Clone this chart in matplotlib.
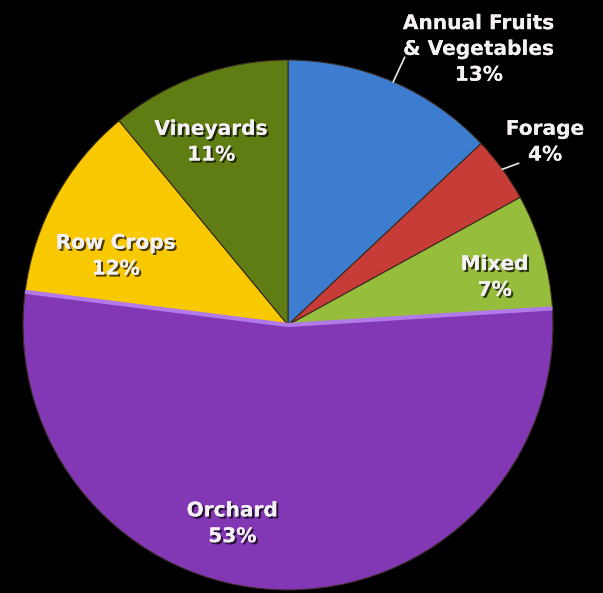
import numpy as np
import matplotlib.pyplot as plt
import matplotlib.patheffects as pe

# land use shares, clockwise from 12 o'clock
categories = ["Annual Fruits\n& Vegetables", "Forage", "Mixed", "Orchard", "Row Crops", "Vineyards"]
shares = [13, 4, 7, 53, 12, 11]
colors = ["#3c7dcf", "#c83c37", "#96bd3c", "#8238b5", "#f8c800", "#5f7d12"]

# label centres (axes data units, pie radius = 1)
label_pos = [(0.72, 1.04), (0.97, 0.69), (0.78, 0.18), (-0.21, -0.75), (-0.65, 0.26), (-0.29, 0.69)]
# slices whose labels sit outside get a short leader line
leader_end = {0: (0.44, 1.01), 1: (0.87, 0.61)}

fig = plt.figure(figsize=(6.03, 5.93), dpi=100, facecolor="black")
ax = fig.add_axes([0, 0, 1, 1])
ax.set_facecolor("black")

wedges, _ = ax.pie(shares, colors=colors, startangle=90, counterclock=False,
                   radius=1.0, center=(0, 0),
                   wedgeprops=dict(edgecolor="#3a2a20", linewidth=0.8))

# lighter bevel on the straight edges of the big slice
orch = wedges[3]
for ang in (orch.theta1, orch.theta2):
    a = np.deg2rad(ang)
    ax.plot([0, np.cos(a)], [0, np.sin(a)], color="#b27ae8", lw=3, solid_capstyle="butt", zorder=3)

shadow = [pe.withSimplePatchShadow(offset=(1.5, -1.5), shadow_rgbFace="black", alpha=0.7), pe.Normal()]

for i, (name, val) in enumerate(zip(categories, shares)):
    x, y = label_pos[i]
    ax.text(x, y, f"{name}\n{val}%", ha="center", va="center", color="#f4f0f4",
            fontsize=14.5, fontweight="bold", linespacing=1.45,
            path_effects=shadow, zorder=5)
    if i in leader_end:
        w = wedges[i]
        mid = np.deg2rad((w.theta1 + w.theta2) / 2)
        ex, ey = leader_end[i]
        ax.plot([np.cos(mid), ex], [np.sin(mid), ey], color="#e8e8e8", lw=1.2, zorder=4)

# pie centre sits at pixel (288, 325) with a 265 px radius
ax.set_xlim(-288 / 265, (603 - 288) / 265)
ax.set_ylim(-(593 - 325) / 265, 325 / 265)
ax.set_aspect("auto")
ax.axis("off")

fig.savefig("out.png", dpi=100, facecolor="black")
